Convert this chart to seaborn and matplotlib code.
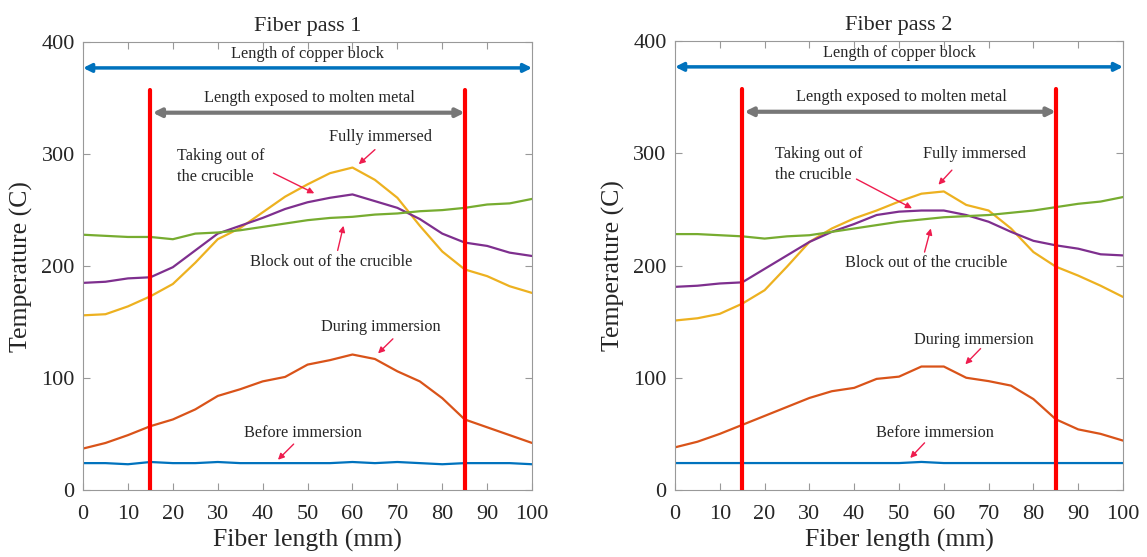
import numpy as np
import pandas as pd
import matplotlib
matplotlib.use("Agg")
import matplotlib.pyplot as plt
import seaborn as sns

# ---------------- data ----------------
x_mm = [0, 5, 10, 15, 20, 25, 30, 35, 40, 45, 50, 55, 60, 65, 70, 75, 80, 85, 90, 95, 100]

p1_before = [24, 24, 23, 25, 24, 24, 25, 24, 24, 24, 24, 24, 25, 24, 25, 24, 23, 24, 24, 24, 23]
p1_during = [37, 42, 49, 57, 63, 72, 84, 90, 97, 101, 112, 116, 121, 117, 106, 97, 82, 63, 56, 49, 42]
p1_fully = [156, 157, 164, 173, 184, 203, 224, 234, 248, 262, 273, 283, 288, 277, 261, 236, 213, 197, 191, 182, 176]
p1_taking = [185, 186, 189, 190, 199, 214, 229, 236, 243, 251, 257, 261, 264, 258, 252, 242, 229, 221, 218, 212, 209]
p1_block = [228, 227, 226, 226, 224, 229, 230, 232, 235, 238, 241, 243, 244, 246, 247, 249, 250, 252, 255, 256, 260]

p2_before = [24, 24, 24, 24, 24, 24, 24, 24, 24, 24, 24, 25, 24, 24, 24, 24, 24, 24, 24, 24, 24]
p2_during = [38, 43, 50, 58, 66, 74, 82, 88, 91, 99, 101, 110, 110, 100, 97, 93, 81, 63, 54, 50, 44]
p2_fully = [151, 153, 157, 166, 178, 199, 221, 233, 242, 249, 257, 264, 266, 254, 249, 233, 212, 199, 191, 182, 172]
p2_taking = [181, 182, 184, 185, 197, 209, 221, 230, 237, 245, 248, 249, 249, 245, 239, 230, 222, 218, 215, 210, 209]
p2_block = [228, 228, 227, 226, 224, 226, 227, 230, 233, 236, 239, 241, 243, 244, 245, 247, 249, 252, 255, 257, 261]

series_names = ["Before immersion", "During immersion", "Fully immersed",
                "Taking out of the crucible", "Block out of the crucible"]
series_colors = ["#0072BD", "#D95319", "#EDB120", "#7E2F8E", "#77AC30"]

panel_titles = ["Fiber pass 1", "Fiber pass 2"]
x_ticks = [0, 10, 20, 30, 40, 50, 60, 70, 80, 90, 100]
y_ticks = [0, 100, 200, 300, 400]
exposed_start, exposed_end = 15, 85

panels = [
    [p1_before, p1_during, p1_fully, p1_taking, p1_block],
    [p2_before, p2_during, p2_fully, p2_taking, p2_block],
]

# annotation positions (data coords): text xy, arrow tail, arrow head
ann1 = {
    "Fully immersed": ((66.2, 315), (65, 304), (61.4, 291)),
    "Taking out of\nthe crucible": ((21, 289), (42.4, 283), (51.5, 265)),
    "Block out of the crucible": ((55.3, 204), (56.7, 214), (58, 236)),
    "During immersion": ((66.2, 146), (69, 135), (65.7, 122)),
    "Before immersion": ((49, 51), (46.9, 41), (43.4, 27)),
}
ann2 = {
    "Fully immersed": ((66.8, 299), (61.8, 285), (58.8, 272)),
    "Taking out of\nthe crucible": ((22.4, 290), (40.5, 277), (52.9, 251)),
    "Block out of the crucible": ((56, 202), (55.7, 212), (57.1, 233)),
    "During immersion": ((66.8, 134), (68.2, 126), (64.8, 112)),
    "Before immersion": ((58, 51), (55.7, 42), (52.5, 28.5)),
}
annots = [ann1, ann2]

# ---------------- style ----------------
sns.set_style("ticks")
plt.rcParams["font.family"] = ["Liberation Serif", "DejaVu Serif"]

fig = plt.figure(figsize=(11.47, 5.57), dpi=100)
ax_pos = [[0.0724, 0.1203, 0.3915, 0.804], [0.5885, 0.1203, 0.3906, 0.806]]

for i in range(2):
    ax = fig.add_axes(ax_pos[i])
    rows = []
    for name, vals in zip(series_names, panels[i]):
        for xv, yv in zip(x_mm, vals):
            rows.append({"x": xv, "T": yv, "series": name})
    df = pd.DataFrame(rows)
    sns.lineplot(data=df, x="x", y="T", hue="series", palette=series_colors,
                 hue_order=series_names, ax=ax, linewidth=1.6, legend=False)

    # red vertical lines
    for xv in (exposed_start, exposed_end):
        ax.plot([xv, xv], [0, 357], color="#FF0000", linewidth=3, zorder=5)

    # copper block arrow
    ax.annotate("", xy=(100, 377), xytext=(0, 377),
                arrowprops=dict(arrowstyle="<|-|>", color="#0072BD", lw=2.5,
                                mutation_scale=12, shrinkA=0, shrinkB=0))
    ax.text(50, 389, "Length of copper block", ha="center", va="center", fontsize=11.7)

    # exposed arrow
    ax.annotate("", xy=(exposed_end, 337), xytext=(exposed_start + 0.5, 337),
                arrowprops=dict(arrowstyle="<|-|>", color="#777777", lw=3,
                                mutation_scale=12, shrinkA=0, shrinkB=0))
    ax.text(50.5, 350, "Length exposed to molten metal", ha="center", va="center",
            fontsize=11.7)

    for label, (txy, tail, head) in annots[i].items():
        ha = "left" if label.startswith("Taking") else "center"
        ax.text(txy[0], txy[1], label, ha=ha, va="center", fontsize=11.7,
                linespacing=1.35)
        ax.annotate("", xy=head, xytext=tail,
                    arrowprops=dict(arrowstyle="-|>", color="#EE1C4E", lw=1.0,
                                    mutation_scale=9, shrinkA=0, shrinkB=0))

    ax.set_xlim(0, 100)
    ax.set_ylim(0, 400)
    ax.set_xticks(x_ticks)
    ax.set_yticks(y_ticks)
    ax.tick_params(axis="both", direction="in", length=5, top=True, right=True,
                   labelsize=16, color="#999999")
    ax.tick_params(axis="x", pad=11)
    ax.tick_params(axis="y", pad=6)
    for s in ax.spines.values():
        s.set_color("#999999")
        s.set_linewidth(0.8)
    ax.set_xlabel("Fiber length (mm)", fontsize=18.5, labelpad=3)
    ax.set_ylabel("Temperature (C)", fontsize=18.5, labelpad=6)
    ax.set_title(panel_titles[i], fontsize=16, pad=8)

fig.savefig("out.png", dpi=100)
